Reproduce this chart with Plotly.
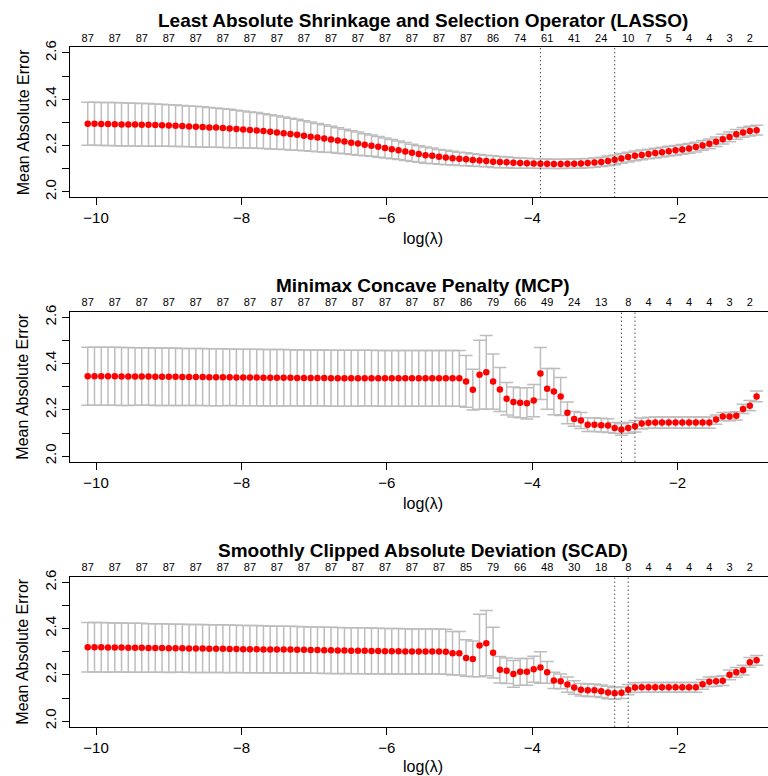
import plotly.graph_objects as go

# log(lambda) grid (100 values)
log_lambda = [
    -10.114, -10.021, -9.928, -9.835, -9.742, -9.649, -9.556, -9.463, -9.371, -9.278,
    -9.185, -9.092, -8.999, -8.906, -8.813, -8.720, -8.627, -8.534, -8.442, -8.349,
    -8.255, -8.162, -8.069, -7.976, -7.883, -7.790, -7.697, -7.604, -7.512, -7.419,
    -7.326, -7.233, -7.140, -7.047, -6.954, -6.861, -6.768, -6.675, -6.583, -6.490,
    -6.397, -6.304, -6.211, -6.118, -6.025, -5.932, -5.839, -5.746, -5.654, -5.561,
    -5.468, -5.375, -5.282, -5.189, -5.096, -5.003, -4.910, -4.817, -4.725, -4.632,
    -4.538, -4.445, -4.352, -4.259, -4.166, -4.073, -3.980, -3.887, -3.795, -3.702,
    -3.609, -3.516, -3.423, -3.330, -3.237, -3.144, -3.051, -2.958, -2.866, -2.773,
    -2.680, -2.587, -2.494, -2.401, -2.308, -2.215, -2.122, -2.029, -1.936, -1.843,
    -1.750, -1.657, -1.564, -1.471, -1.379, -1.286, -1.193, -1.100, -1.007, -0.914,
]

# ---- LASSO ----
lasso_mean = [
    2.294, 2.294, 2.293, 2.293, 2.292, 2.291, 2.291, 2.290, 2.289, 2.289,
    2.288, 2.287, 2.286, 2.285, 2.284, 2.282, 2.281, 2.280, 2.278, 2.277,
    2.275, 2.273, 2.271, 2.269, 2.267, 2.265, 2.262, 2.259, 2.256, 2.253,
    2.249, 2.246, 2.242, 2.238, 2.234, 2.230, 2.226, 2.221, 2.217, 2.212,
    2.208, 2.203, 2.199, 2.194, 2.189, 2.184, 2.179, 2.174, 2.168, 2.163,
    2.158, 2.155, 2.151, 2.148, 2.145, 2.142, 2.140, 2.137, 2.135, 2.133,
    2.130, 2.128, 2.127, 2.125, 2.124, 2.123, 2.122, 2.121, 2.121, 2.120,
    2.120, 2.121, 2.121, 2.122, 2.124, 2.126, 2.129, 2.133, 2.138, 2.144,
    2.150, 2.155, 2.159, 2.163, 2.167, 2.171, 2.175, 2.179, 2.183, 2.187,
    2.193, 2.200, 2.207, 2.216, 2.227, 2.237, 2.248, 2.256, 2.262, 2.266,
]
lasso_se = [
    0.093, 0.093, 0.093, 0.093, 0.093, 0.093, 0.092, 0.092, 0.092, 0.092,
    0.091, 0.091, 0.090, 0.090, 0.089, 0.088, 0.088, 0.087, 0.086, 0.085,
    0.084, 0.083, 0.081, 0.080, 0.078, 0.077, 0.075, 0.074, 0.072, 0.070,
    0.069, 0.067, 0.065, 0.063, 0.061, 0.059, 0.057, 0.055, 0.053, 0.051,
    0.050, 0.048, 0.046, 0.045, 0.043, 0.042, 0.040, 0.039, 0.037, 0.036,
    0.035, 0.034, 0.032, 0.031, 0.030, 0.029, 0.028, 0.027, 0.026, 0.025,
    0.025, 0.024, 0.023, 0.023, 0.022, 0.022, 0.021, 0.021, 0.020, 0.020,
    0.020, 0.020, 0.020, 0.020, 0.020, 0.020, 0.020, 0.021, 0.021, 0.021,
    0.021, 0.021, 0.021, 0.021, 0.021, 0.021, 0.021, 0.021, 0.021, 0.021,
    0.021, 0.021, 0.021, 0.021, 0.021, 0.021, 0.021, 0.021, 0.021, 0.021,
]
lasso_nz_idx = [0, 4, 8, 12, 16, 20, 24, 28, 32, 36, 40, 44, 48, 52, 56, 60, 64, 68,
                72, 76, 80, 83, 86, 89, 92, 95, 98]
lasso_nz = ["87", "87", "87", "87", "87", "87", "87", "87", "87", "87", "87", "87",
            "87", "87", "87", "86", "74", "61", "41", "24", "10", "7", "5", "4", "4", "3", "2"]
lasso_sel_idx = [67, 78]

# ---- MCP ----
mcp_mean = [
    2.345, 2.345, 2.345, 2.345, 2.345, 2.344, 2.344, 2.344, 2.344, 2.344,
    2.343, 2.343, 2.343, 2.343, 2.342, 2.342, 2.342, 2.342, 2.341, 2.341,
    2.341, 2.341, 2.340, 2.340, 2.340, 2.340, 2.339, 2.339, 2.339, 2.339,
    2.339, 2.338, 2.338, 2.338, 2.338, 2.338, 2.337, 2.337, 2.337, 2.337,
    2.337, 2.337, 2.337, 2.336, 2.336, 2.336, 2.336, 2.336, 2.336, 2.336,
    2.336, 2.336, 2.336, 2.336, 2.336, 2.336, 2.323, 2.287, 2.352, 2.362,
    2.322, 2.288, 2.248, 2.234, 2.231, 2.228, 2.240, 2.357, 2.291, 2.279,
    2.258, 2.187, 2.161, 2.154, 2.136, 2.136, 2.134, 2.132, 2.122, 2.115,
    2.122, 2.129, 2.141, 2.144, 2.145, 2.145, 2.145, 2.145, 2.145, 2.145,
    2.145, 2.145, 2.145, 2.158, 2.171, 2.171, 2.174, 2.204, 2.218, 2.258,
]
mcp_se = [
    0.125, 0.125, 0.125, 0.125, 0.125, 0.125, 0.125, 0.124, 0.124, 0.124,
    0.124, 0.124, 0.124, 0.124, 0.123, 0.123, 0.123, 0.123, 0.123, 0.123,
    0.123, 0.122, 0.122, 0.122, 0.122, 0.122, 0.122, 0.122, 0.122, 0.122,
    0.121, 0.121, 0.121, 0.121, 0.121, 0.121, 0.121, 0.121, 0.121, 0.121,
    0.121, 0.120, 0.120, 0.120, 0.120, 0.120, 0.120, 0.120, 0.120, 0.120,
    0.120, 0.120, 0.120, 0.120, 0.120, 0.120, 0.112, 0.088, 0.149, 0.159,
    0.119, 0.095, 0.070, 0.065, 0.065, 0.067, 0.070, 0.112, 0.088, 0.100,
    0.082, 0.047, 0.032, 0.035, 0.030, 0.030, 0.030, 0.030, 0.023, 0.025,
    0.023, 0.025, 0.024, 0.024, 0.024, 0.024, 0.024, 0.024, 0.024, 0.024,
    0.024, 0.024, 0.024, 0.020, 0.018, 0.018, 0.018, 0.020, 0.022, 0.023,
]
mcp_nz_idx = [0, 4, 8, 12, 16, 20, 24, 28, 32, 36, 40, 44, 48, 52, 56, 60, 64, 68,
              72, 76, 80, 83, 86, 89, 92, 95, 98]
mcp_nz = ["87", "87", "87", "87", "87", "87", "87", "87", "87", "87", "87", "87",
          "87", "87", "86", "79", "66", "49", "24", "13", "8", "4", "4", "4", "4", "3", "2"]
mcp_sel_idx = [79, 81]

# ---- SCAD ----
scad_mean = [
    2.319, 2.319, 2.319, 2.318, 2.318, 2.318, 2.317, 2.317, 2.317, 2.316,
    2.316, 2.316, 2.315, 2.315, 2.315, 2.314, 2.314, 2.314, 2.313, 2.313,
    2.313, 2.312, 2.312, 2.311, 2.311, 2.311, 2.310, 2.310, 2.309, 2.309,
    2.309, 2.308, 2.308, 2.307, 2.307, 2.306, 2.306, 2.305, 2.305, 2.304,
    2.304, 2.304, 2.303, 2.303, 2.302, 2.302, 2.302, 2.301, 2.301, 2.301,
    2.301, 2.301, 2.301, 2.300, 2.293, 2.293, 2.273, 2.269, 2.327, 2.337,
    2.296, 2.222, 2.218, 2.204, 2.213, 2.213, 2.224, 2.232, 2.211, 2.176,
    2.172, 2.158, 2.145, 2.136, 2.134, 2.133, 2.129, 2.124, 2.120, 2.123,
    2.136, 2.145, 2.146, 2.146, 2.146, 2.146, 2.146, 2.146, 2.146, 2.146,
    2.146, 2.159, 2.170, 2.172, 2.175, 2.200, 2.211, 2.220, 2.254, 2.263,
]
scad_se = [
    0.107, 0.107, 0.107, 0.107, 0.106, 0.106, 0.106, 0.106, 0.106, 0.105,
    0.105, 0.105, 0.105, 0.104, 0.104, 0.104, 0.104, 0.104, 0.103, 0.103,
    0.103, 0.103, 0.102, 0.102, 0.102, 0.102, 0.102, 0.101, 0.101, 0.101,
    0.101, 0.101, 0.100, 0.100, 0.100, 0.100, 0.100, 0.100, 0.099, 0.099,
    0.099, 0.099, 0.099, 0.098, 0.098, 0.098, 0.098, 0.098, 0.097, 0.097,
    0.097, 0.097, 0.097, 0.097, 0.094, 0.094, 0.079, 0.077, 0.135, 0.141,
    0.110, 0.057, 0.055, 0.058, 0.058, 0.058, 0.056, 0.068, 0.047, 0.035,
    0.032, 0.033, 0.029, 0.027, 0.027, 0.027, 0.027, 0.027, 0.025, 0.025,
    0.022, 0.021, 0.021, 0.021, 0.021, 0.021, 0.021, 0.021, 0.021, 0.021,
    0.021, 0.021, 0.021, 0.021, 0.021, 0.021, 0.021, 0.021, 0.021, 0.021,
]
scad_nz_idx = [0, 4, 8, 12, 16, 20, 24, 28, 32, 36, 40, 44, 48, 52, 56, 60, 64, 68,
               72, 76, 80, 83, 86, 89, 92, 95, 98]
scad_nz = ["87", "87", "87", "87", "87", "87", "87", "87", "87", "87", "87", "87",
           "87", "87", "85", "79", "66", "48", "30", "18", "8", "4", "4", "4", "4", "3", "2"]
scad_sel_idx = [78, 80]

titles = [
    "Least Absolute Shrinkage and Selection Operator (LASSO)",
    "Minimax Concave Penalty (MCP)",
    "Smoothly Clipped Absolute Deviation (SCAD)",
]
x_ticks = [-10, -8, -6, -4, -2]
x_ticklabels = ["\u221210", "\u22128", "\u22126", "\u22124", "\u22122"]
y_ticks = [2.0, 2.1, 2.2, 2.3, 2.4, 2.5, 2.6]
y_ticklabels = ["2.0", "", "2.2", "", "2.4", "", "2.6"]

panels = [
    (lasso_mean, lasso_se, lasso_nz_idx, lasso_nz, lasso_sel_idx),
    (mcp_mean, mcp_se, mcp_nz_idx, mcp_nz, mcp_sel_idx),
    (scad_mean, scad_se, scad_nz_idx, scad_nz, scad_sel_idx),
]

W, H = 768, 776
ML = 70
plot_tops = [47.3, 311.7, 576.7]
plot_h = 150.0
title_y = [20.7, 285.0, 550.7]
xlab_y = [238.0, 503.3, 766.0]
XR = [-10.358, -0.757]
YR = [1.976, 2.624]
FONT = "Liberation Sans, Arial, Helvetica, sans-serif"

def py2paper(py):
    return 1 - py / H

def px2paper(px):
    return (px - ML) / (W - ML)

fig = go.Figure()
layout = dict(
    template="none",
    width=W, height=H,
    margin=dict(l=ML, r=0, t=0, b=0, pad=0),
    paper_bgcolor="white", plot_bgcolor="white",
    showlegend=False,
    font=dict(family=FONT, color="black"),
    shapes=[], annotations=[],
)

for i, (mean, se, nz_idx, nz, sel_idx) in enumerate(panels):
    n = i + 1
    xa = "x" if n == 1 else f"x{n}"
    ya = "y" if n == 1 else f"y{n}"
    top_n = n + 3
    dom = [py2paper(plot_tops[i] + plot_h), py2paper(plot_tops[i])]

    fig.add_trace(go.Scatter(
        x=log_lambda, y=mean, mode="markers",
        marker=dict(color="red", size=6.5, line=dict(width=0)),
        error_y=dict(type="data", array=se, visible=True,
                     color="#bdbdbd", thickness=1.5, width=6.5),
        xaxis=xa, yaxis=ya, hoverinfo="skip",
    ))

    layout[f"xaxis{n}"] = dict(
        domain=[0, 1], anchor=ya, range=XR, automargin=False,
        tickmode="array", tickvals=x_ticks, ticktext=x_ticklabels,
        ticks="outside", ticklen=7, tickwidth=1, tickcolor="black",
        showline=True, linecolor="black", linewidth=1,
        showgrid=False, zeroline=False,
        tickfont=dict(size=15, family=FONT, color="black"),
    )
    layout[f"xaxis{top_n}"] = dict(
        overlaying=xa, side="top", anchor=ya, range=XR, automargin=False,
        tickmode="array",
        tickvals=[log_lambda[k] for k in nz_idx], ticktext=nz,
        ticks="", showline=True, linecolor="black", linewidth=1,
        showgrid=False, zeroline=False,
        tickfont=dict(size=11, family=FONT, color="black"),
    )
    layout[f"yaxis{n}"] = dict(
        domain=dom, anchor=xa, range=YR, automargin=False,
        tickmode="array", tickvals=y_ticks, ticktext=y_ticklabels,
        tickangle=-90,
        ticks="outside", ticklen=7, tickwidth=1, tickcolor="black",
        showline=True, linecolor="black", linewidth=1,
        showgrid=False, zeroline=False,
        tickfont=dict(size=15, family=FONT, color="black"),
    )
    # invisible trace so the top (count) axis renders
    fig.add_trace(go.Scatter(x=[log_lambda[0]], y=[mean[0]], mode="markers",
                             marker=dict(opacity=0), xaxis=f"x{top_n}", yaxis=ya,
                             hoverinfo="skip"))

    for k in sel_idx:
        layout["shapes"].append(dict(
            type="line", xref=xa, yref=f"{ya} domain",
            x0=log_lambda[k], x1=log_lambda[k], y0=0, y1=1,
            line=dict(color="black", width=1, dash="1px,3px"),
        ))

    layout["annotations"].append(dict(
        text=f"<b>{titles[i]}</b>", xref="paper", yref="paper",
        x=px2paper(423), y=py2paper(title_y[i]), xanchor="center", yanchor="middle",
        showarrow=False, font=dict(size=19, family=FONT),
    ))
    layout["annotations"].append(dict(
        text="log(\u03bb)", xref="paper", yref="paper",
        x=px2paper(423), y=py2paper(xlab_y[i]), xanchor="center", yanchor="middle",
        showarrow=False, font=dict(size=16, family=FONT),
    ))
    layout["annotations"].append(dict(
        text="Mean Absolute Error", xref="paper", yref="paper",
        x=px2paper(23), y=py2paper(plot_tops[i] + plot_h / 2),
        xanchor="center", yanchor="middle", textangle=-90,
        showarrow=False, font=dict(size=16, family=FONT),
    ))

fig.update_layout(**layout)
fig.write_html(
    "out.html",
    config={"displayModeBar": False, "staticPlot": True},
    post_script="document.body.style.margin='0';document.body.style.overflow='hidden';",
)
